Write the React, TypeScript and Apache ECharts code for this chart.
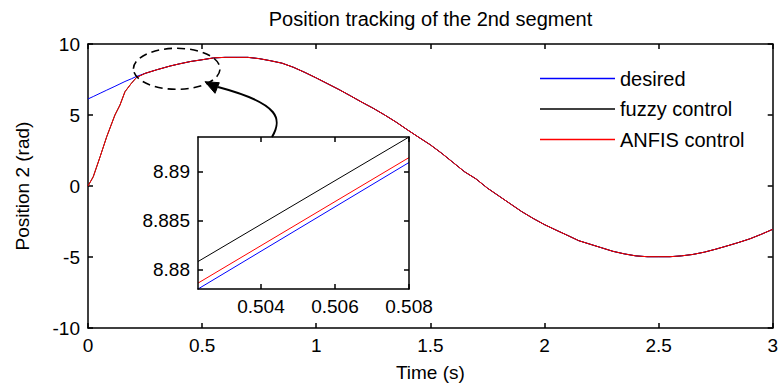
import React, { useEffect, useRef } from 'react';
import * as echarts from 'echarts';

const FONT = '"Liberation Sans", Arial, Helvetica, sans-serif';

// Main plot data (time in s, position in rad)
const times = [0, 0.023, 0.053, 0.082, 0.118, 0.14, 0.162, 0.19, 0.213, 0.25, 0.3, 0.36, 0.4, 0.45, 0.5, 0.55, 0.6, 0.65, 0.7, 0.75, 0.8, 0.85, 0.9, 0.95, 1.0, 1.05, 1.1, 1.15, 1.2, 1.25, 1.3, 1.35, 1.4, 1.45, 1.5, 1.55, 1.6, 1.65, 1.7, 1.75, 1.8, 1.85, 1.9, 1.95, 2.0, 2.05, 2.1, 2.15, 2.2, 2.25, 2.3, 2.35, 2.4, 2.45, 2.5, 2.55, 2.6, 2.65, 2.7, 2.75, 2.8, 2.85, 2.9, 2.95, 3.0];
const desired = [6.13, 6.3, 6.53, 6.75, 7.02, 7.19, 7.36, 7.55, 7.72, 7.93, 8.18, 8.45, 8.6, 8.77, 8.89, 9.02, 9.06, 9.06, 9.06, 8.97, 8.82, 8.65, 8.36, 8.0, 7.61, 7.2, 6.79, 6.35, 5.9, 5.47, 5.0, 4.5, 3.95, 3.42, 2.9, 2.3, 1.65, 1.0, 0.5, -0.15, -0.7, -1.25, -1.8, -2.28, -2.72, -3.1, -3.47, -3.85, -4.1, -4.35, -4.6, -4.78, -4.92, -4.98, -4.98, -4.98, -4.92, -4.82, -4.66, -4.45, -4.22, -3.98, -3.72, -3.4, -3.05];
const fuzzy = [0, 0.65, 2.06, 3.47, 5.0, 5.7, 6.64, 7.23, 7.65, 7.93, 8.18, 8.45, 8.6, 8.77, 8.89, 9.02, 9.06, 9.06, 9.06, 8.97, 8.82, 8.65, 8.36, 8.0, 7.61, 7.2, 6.79, 6.35, 5.9, 5.47, 5.0, 4.5, 3.95, 3.42, 2.9, 2.3, 1.65, 1.0, 0.5, -0.15, -0.7, -1.25, -1.8, -2.28, -2.72, -3.1, -3.47, -3.85, -4.1, -4.35, -4.6, -4.78, -4.92, -4.98, -4.98, -4.98, -4.92, -4.82, -4.66, -4.45, -4.22, -3.98, -3.72, -3.4, -3.05];
const anfis = [0, 0.65, 2.06, 3.47, 5.0, 5.7, 6.64, 7.23, 7.65, 7.93, 8.18, 8.45, 8.6, 8.77, 8.89, 9.02, 9.06, 9.06, 9.06, 8.97, 8.82, 8.65, 8.36, 8.0, 7.61, 7.2, 6.79, 6.35, 5.9, 5.47, 5.0, 4.5, 3.95, 3.42, 2.9, 2.3, 1.65, 1.0, 0.5, -0.15, -0.7, -1.25, -1.8, -2.28, -2.72, -3.1, -3.47, -3.85, -4.1, -4.35, -4.6, -4.78, -4.92, -4.98, -4.98, -4.98, -4.92, -4.82, -4.66, -4.45, -4.22, -3.98, -3.72, -3.4, -3.05];

// Inset (zoom) data
const insetTimes = [0.5023, 0.508];
const insetDesired = [8.878, 8.8909];
const insetFuzzy = [8.8808, 8.8935];
const insetAnfis = [8.8786, 8.8914];
const insetXTicks = [0.504, 0.506, 0.508];
const insetYTicks = [8.88, 8.885, 8.89];

const seriesNames = ['desired', 'fuzzy control', 'ANFIS control'];
const colors = ['#0000ff', '#000000', '#ff0000'];

const pairs = (xs: number[], ys: number[]) => xs.map((x, i) => [x, ys[i]]);

const labelStyle = { color: '#000', fontSize: 19, fontFamily: FONT };
const lineBlack = { color: '#000', width: 1.5 };

function buildOption() {
  const mainX = { min: 0, max: 3, interval: 0.5 };
  const mainY = { min: -10, max: 10, interval: 5 };
  const insetX = { min: insetTimes[0], max: insetTimes[1] };
  const insetY = { min: 8.878, max: 8.8935 };

  return {
    animation: false,
    backgroundColor: '#fff',
    textStyle: { fontFamily: FONT },
    grid: [
      { left: 88, top: 44, right: 8, bottom: 61, containLabel: false },
      { left: 198, top: 137, width: 211, height: 152, containLabel: false },
    ],
    xAxis: [
      {
        type: 'value', gridIndex: 0, position: 'bottom', ...mainX,
        name: 'Time (s)', nameLocation: 'middle', nameGap: 35,
        nameTextStyle: { color: '#000', fontSize: 19, fontFamily: FONT },
        axisLine: { show: true, onZero: false, lineStyle: lineBlack },
        axisTick: { show: true, inside: true, length: 5, lineStyle: lineBlack },
        axisLabel: { ...labelStyle, margin: 8 },
        splitLine: { show: false },
      },
      {
        type: 'value', gridIndex: 0, position: 'top', ...mainX,
        axisLine: { show: true, onZero: false, lineStyle: lineBlack },
        axisTick: { show: true, inside: true, length: 5, lineStyle: lineBlack },
        axisLabel: { show: false },
        splitLine: { show: false },
      },
      {
        type: 'value', gridIndex: 1, position: 'bottom', ...insetX, z: 5,
        axisLine: { show: true, onZero: false, lineStyle: lineBlack },
        axisTick: { show: true, inside: true, length: 5, lineStyle: lineBlack, customValues: insetXTicks },
        axisLabel: { ...labelStyle, margin: 8, customValues: insetXTicks, formatter: (v: number) => v.toFixed(3) },
        splitLine: { show: false },
      },
      {
        type: 'value', gridIndex: 1, position: 'top', ...insetX, z: 5,
        axisLine: { show: true, onZero: false, lineStyle: lineBlack },
        axisTick: { show: true, inside: true, length: 5, lineStyle: lineBlack, customValues: insetXTicks },
        axisLabel: { show: false },
        splitLine: { show: false },
      },
    ],
    yAxis: [
      {
        type: 'value', gridIndex: 0, position: 'left', ...mainY,
        name: 'Position 2 (rad)', nameLocation: 'middle', nameGap: 56,
        nameTextStyle: { color: '#000', fontSize: 19, fontFamily: FONT },
        axisLine: { show: true, onZero: false, lineStyle: lineBlack },
        axisTick: { show: true, inside: true, length: 5, lineStyle: lineBlack },
        axisLabel: { ...labelStyle, margin: 8 },
        splitLine: { show: false },
      },
      {
        type: 'value', gridIndex: 0, position: 'right', ...mainY,
        axisLine: { show: true, onZero: false, lineStyle: lineBlack },
        axisTick: { show: true, inside: true, length: 5, lineStyle: lineBlack },
        axisLabel: { show: false },
        splitLine: { show: false },
      },
      {
        type: 'value', gridIndex: 1, position: 'left', ...insetY, z: 5,
        axisLine: { show: true, onZero: false, lineStyle: lineBlack },
        axisTick: { show: true, inside: true, length: 5, lineStyle: lineBlack, customValues: insetYTicks },
        axisLabel: { ...labelStyle, margin: 8, customValues: insetYTicks, formatter: (v: number) => String(+v.toFixed(3)) },
        splitLine: { show: false },
      },
      {
        type: 'value', gridIndex: 1, position: 'right', ...insetY, z: 5,
        axisLine: { show: true, onZero: false, lineStyle: lineBlack },
        axisTick: { show: true, inside: true, length: 5, lineStyle: lineBlack, customValues: insetYTicks },
        axisLabel: { show: false },
        splitLine: { show: false },
      },
    ],
    legend: {
      data: seriesNames.map((n) => ({ name: n, icon: 'rect' })),
      orient: 'vertical',
      left: 540,
      top: 68.5,
      padding: 0,
      itemWidth: 75,
      itemHeight: 1.3,
      itemGap: 10.5,
      itemTextGap: 11,
      textStyle: { color: '#000', fontSize: 20, lineHeight: 20, fontFamily: FONT },
    },
    graphic: [
      {
        type: 'text', x: 430.5, y: 19, z: 10,
        style: { text: 'Position tracking of the 2nd segment', fill: '#000', font: `20px ${FONT}`, textAlign: 'center', textVerticalAlign: 'middle' },
      },
      {
        type: 'rect', z: 3, silent: true,
        shape: { x: 198, y: 137, width: 211, height: 152 },
        style: { fill: '#fff', stroke: 'none' },
      },
      {
        type: 'ellipse', z: 10, silent: true,
        shape: { cx: 176.7, cy: 68.8, rx: 43.3, ry: 20.5 },
        style: { fill: 'none', stroke: '#000', lineWidth: 1.6, lineDash: [8, 5] },
      },
      {
        type: 'bezierCurve', z: 10, silent: true,
        shape: { x1: 272, y1: 137, cpx1: 282, cpy1: 120, cpx2: 282, cpy2: 104, x2: 218, y2: 87 },
        style: { fill: 'none', stroke: '#000', lineWidth: 2 },
      },
      {
        type: 'polygon', z: 10, silent: true,
        shape: { points: [[205, 81.7], [219.3, 82.7], [215, 93.3]] },
        style: { fill: '#000', stroke: '#000', lineWidth: 1 },
      },
    ],
    series: [
      {
        name: seriesNames[0], type: 'line', xAxisIndex: 0, yAxisIndex: 0, z: 2,
        data: pairs(times, desired), symbol: 'none', lineStyle: { color: colors[0], width: 1 }, itemStyle: { color: colors[0] },
      },
      {
        name: seriesNames[1], type: 'line', xAxisIndex: 0, yAxisIndex: 0, z: 2,
        data: pairs(times, fuzzy), symbol: 'none', lineStyle: { color: colors[1], width: 1 }, itemStyle: { color: colors[1] },
      },
      {
        name: seriesNames[2], type: 'line', xAxisIndex: 0, yAxisIndex: 0, z: 2,
        data: pairs(times, anfis), symbol: 'none', lineStyle: { color: colors[2], width: 1 }, itemStyle: { color: colors[2] },
      },
      {
        name: 'inset desired', type: 'line', xAxisIndex: 2, yAxisIndex: 2, z: 4,
        data: pairs(insetTimes, insetDesired), symbol: 'none', lineStyle: { color: colors[0], width: 1 }, itemStyle: { color: colors[0] },
      },
      {
        name: 'inset fuzzy', type: 'line', xAxisIndex: 2, yAxisIndex: 2, z: 4,
        data: pairs(insetTimes, insetFuzzy), symbol: 'none', lineStyle: { color: colors[1], width: 1 }, itemStyle: { color: colors[1] },
      },
      {
        name: 'inset ANFIS', type: 'line', xAxisIndex: 2, yAxisIndex: 2, z: 4,
        data: pairs(insetTimes, insetAnfis), symbol: 'none', lineStyle: { color: colors[2], width: 1 }, itemStyle: { color: colors[2] },
      },
    ],
  };
}

export default function App() {
  const ref = useRef<HTMLDivElement>(null);
  useEffect(() => {
    document.body.style.margin = '0';
    const chart = echarts.init(ref.current as HTMLDivElement, undefined, { renderer: 'svg' });
    chart.setOption(buildOption() as any);
    return () => chart.dispose();
  }, []);
  return <div ref={ref} style={{ width: 781, height: 389 }} />;
}
